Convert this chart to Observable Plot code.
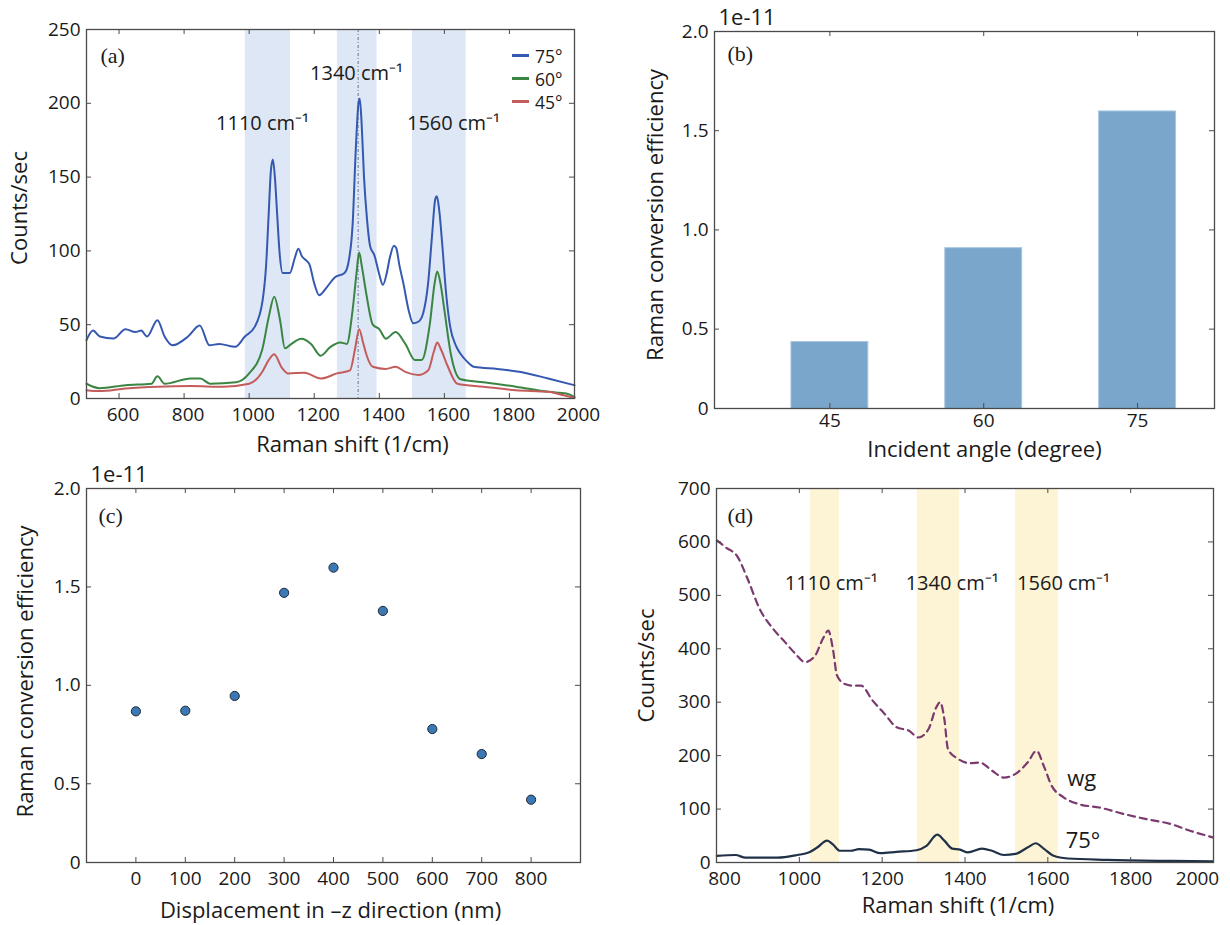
<!DOCTYPE html>
<html><head><meta charset="utf-8">
<script src="https://cdn.jsdelivr.net/npm/d3@7"></script>
<script src="https://cdn.jsdelivr.net/npm/@observablehq/plot@0.6"></script>
<style>
body{margin:0;background:#fff;}
#fig{position:relative;width:1230px;height:925px;font-family:"Open Sans",sans-serif;overflow:hidden;}
.panel{position:absolute;}
.legend{position:absolute;left:512px;top:44px;font:17.5px "Open Sans",sans-serif;color:#1a1a1a;}
.legend div{display:flex;align-items:center;height:23px;}
.legend .sw{display:inline-block;width:17px;height:3px;margin-right:6px;}
.legend .lt{display:inline-block;height:18px;line-height:18px;}
</style></head><body><div id="fig"></div>
<script>
// ---------- data ----------
// (a) spectra [Raman shift, counts/sec]
const spectrum75 = [[500,39.5],[520,46],[541,42],[583,40.6],[620,47],[650,45],[668,46],[686,42],[718,53],[740,42],[764,36],[812,42],[848,49.5],[878,36],[908,37],[957,35],[987,42],[1017,48.5],[1041,66],[1052,90],[1060,125],[1067,155],[1073,162],[1079,150],[1086,125],[1093,100],[1103,85],[1125,85],[1140,95],[1151,101.5],[1163,96],[1173,94],[1185,91],[1200,78],[1215,70],[1239,75.5],[1263,82],[1293,85],[1305,92],[1318,118],[1328,170],[1336,200],[1340,203],[1346,185],[1353,150],[1362,122],[1372,103],[1385,97],[1400,84],[1411,77],[1422,84],[1432,95],[1445,103.5],[1452,102],[1462,90],[1474,78],[1490,60],[1504,51],[1520,52],[1535,58],[1550,78],[1562,110],[1572,135],[1577,137],[1584,128],[1594,103],[1605,72],[1618,48.5],[1635,36],[1649,30.5],[1670,25],[1691,21.5],[1763,20],[1835,18],[1919,13.5],[2000,9]];
const spectrum60 = [[500,10],[540,7],[620,9],[700,10],[718,15],[740,10],[820,13.5],[850,13.5],[880,10],[960,11],[1000,17],[1040,33],[1060,55],[1077,69],[1095,53],[1110,34],[1130,37],[1160,40.5],[1190,37],[1220,29],[1250,35],[1280,38],[1300,37],[1318,60],[1330,85],[1338,99],[1346,90],[1360,71],[1380,50],[1400,47],[1420,40.5],[1450,45],[1480,37],[1510,26],[1530,26],[1555,50],[1570,78],[1578,86],[1588,78],[1600,60],[1620,30],[1650,13],[1720,11],[1820,8],[1920,4.5],[1975,3.4],[2000,1]];
const spectrum45 = [[500,5.6],[540,5],[620,6.8],[720,8],[820,8.4],[920,8],[1000,10],[1040,18],[1060,26],[1077,30],[1100,21],[1120,17],[1170,17.4],[1220,13.5],[1270,17],[1310,19],[1325,33],[1338,47],[1350,38],[1360,30],[1380,21.5],[1420,20],[1450,21.5],[1480,18],[1520,16],[1550,19],[1568,32],[1578,38],[1590,33],[1610,22],[1640,10],[1720,8],[1820,5.6],[1920,4.5],[1970,2],[2000,0.5]];
const bandsA = [[988,1127],[1271,1393],[1502,1667]];
const peakLineA = [1335];
const peakLabelsA = [{x:1041,y:186,t:"1110 cm\u207B\u00B9"},{x:1330,y:220,t:"1340 cm\u207B\u00B9"},{x:1628,y:186,t:"1560 cm\u207B\u00B9"}];
const legendA = [["75°","#3558b0"],["60°","#3a8542"],["45°","#c45c5c"]];

// (b) efficiency vs incident angle (x 1e-11)
const angles = ["45","60","75"];
const effByAngle = [0.435, 0.908, 1.597];

// (c) efficiency vs displacement (x 1e-11)
const displacement = [0,100,200,300,400,500,600,700,800];
const effByDisp = [0.868,0.871,0.946,1.470,1.598,1.378,0.778,0.651,0.419];

// (d) spectra
const wgSpectrum = [[801,603],[822,590],[851,572],[875,531],[904,475],[937,437],[966,412],[990,391],[1014,375],[1038,387],[1057,419],[1070,434],[1081,400],[1091,350],[1110,334],[1129,331],[1149,331],[1177,303],[1206,278],[1235,253],[1264,247],[1288,234],[1312,250],[1331,291],[1340,300],[1350,269],[1359,212],[1383,194],[1412,186],[1436,187],[1465,172],[1494,159],[1522,166],[1551,187],[1573,209],[1590,181],[1609,144],[1638,122],[1676,109],[1724,103],[1782,91],[1839,81],[1897,72],[1945,59],[1998,47]];
const spectrum75d = [[801,12.5],[846,14],[870,9],[947,9],[995,14],[1024,19],[1043,28],[1067,41],[1081,34],[1098,22],[1124,22],[1144,25],[1168,24],[1196,17.5],[1235,20],[1283,23],[1307,31],[1333,52],[1350,41],[1369,26],[1388,24],[1407,19],[1441,26],[1465,22],[1494,14],[1522,16],[1551,28],[1571,36],[1590,26],[1614,12.5],[1648,7.5],[1743,5],[1887,3],[1998,2]];
const bandsD = [[1027,1097],[1285,1387],[1522,1625]];
const peakLabelsD = [{x:1077,y:522,t:"1110 cm\u207B\u00B9"},{x:1369,y:522,t:"1340 cm\u207B\u00B9"},{x:1638,y:522,t:"1560 cm\u207B\u00B9"}];
const curveLabelsD = [{x:1647,y:157,t:"wg"},{x:1643,y:41,t:"75°"}];

// ---------- drawing ----------
const FRAME = "#4a4a4a";
const SERIF = "Liberation Serif, DejaVu Serif, serif";
const fig = document.getElementById("fig");

function ticksMarks(W, H, xTicks, yTicks) {
  return [
    Plot.ruleX(xTicks, {x: d => d, insetTop: H - 5, stroke: FRAME}),
    Plot.ruleX(xTicks, {x: d => d, insetBottom: H - 5, stroke: FRAME}),
    Plot.ruleY(yTicks, {y: d => d, insetRight: W - 5, stroke: FRAME}),
    Plot.ruleY(yTicks, {y: d => d, insetLeft: W - 5, stroke: FRAME}),
    Plot.frame({stroke: FRAME, strokeWidth: 1.3})
  ];
}
function xLabels(ticks, fmt, dx = 0, pad = 9) {
  return Plot.axisX(ticks, {tickSize: 0, tickPadding: pad, tickFormat: fmt, label: null, fill: "#1a1a1a", dx});
}
function yLabels(ticks, fmt) {
  return Plot.axisY(ticks, {tickSize: 0, tickPadding: 6, tickFormat: fmt, label: null, fill: "#1a1a1a"});
}
function titles(xt, xdx, xdy, yt, ydx, ydy) {
  return [
    Plot.text([xt], {frameAnchor: "bottom", dx: xdx, dy: xdy, fontSize: 22, textAnchor: "middle", lineAnchor: "middle", fill: "#1a1a1a"}),
    Plot.text([yt], {frameAnchor: "left", dx: ydx, dy: ydy, rotate: -90, fontSize: 22, textAnchor: "middle", lineAnchor: "middle", fill: "#1a1a1a"})
  ];
}
function panelLabel(t, dx, dy) {
  return Plot.text([t], {frameAnchor: "top-left", dx, dy, fontFamily: SERIF, fontSize: 22, textAnchor: "start", lineAnchor: "middle", fill: "#1a1a1a"});
}
function expLabel() {
  return Plot.text(["1e-11"], {frameAnchor: "top-left", dx: 4, dy: -14, fontSize: 22, textAnchor: "start", lineAnchor: "middle", fill: "#1a1a1a"});
}
function place(svg, left, top) {
  svg.classList.add("panel");
  svg.style.left = left + "px";
  svg.style.top = top + "px";
  fig.appendChild(svg);
}
const style = {fontFamily: "Open Sans, sans-serif", fontSize: "19px", background: "transparent", overflow: "visible"};
const num = d => String(d);
const eff = d => d < 0.2 ? "0" : d.toFixed(1);

// (a)
{
  const W = 615 - 86 - 41, H = 462 - 29 - 64;
  const xT = [600,800,1000,1200,1400,1600,1800,2000], yT = [0,50,100,150,200,250];
  const svg = Plot.plot({
    width: 615, height: 462, marginLeft: 86, marginRight: 41, marginTop: 29, marginBottom: 64,
    style,
    x: {domain: [500, 2000]}, y: {domain: [0, 250]},
    marks: [
      Plot.rect(bandsA, {x1: d => d[0], x2: d => d[1], fill: "#dde7f5"}),
      Plot.ruleX(peakLineA, {x: d => d, stroke: "#4c5b80", strokeWidth: 0.8, strokeDasharray: "3,2,1,2"}),
      Plot.line(spectrum75, {x: d => d[0], y: d => d[1], stroke: legendA[0][1], strokeWidth: 2, curve: "monotone-x"}),
      Plot.line(spectrum60, {x: d => d[0], y: d => d[1], stroke: legendA[1][1], strokeWidth: 2, curve: "monotone-x"}),
      Plot.line(spectrum45, {x: d => d[0], y: d => d[1], stroke: legendA[2][1], strokeWidth: 2, curve: "monotone-x"}),
      Plot.text(peakLabelsA, {x: "x", y: "y", text: "t", fontSize: 20, fill: "#1a1a1a"}),
      panelLabel("(a)", 14, 26),
      ...ticksMarks(W, H, xT, yT),
      xLabels(xT, num, 4),
      yLabels(yT, num),
      ...titles("Raman shift (1/cm)", 22, 46, "Counts/sec", -67, -6)
    ]
  });
  place(svg, 0, 0);
  const lg = document.createElement("div");
  lg.className = "legend";
  legendA.forEach(([t, c]) => {
    const row = document.createElement("div");
    row.innerHTML = `<span class="sw" style="background:${c}"></span><span class="lt">${t}</span>`;
    lg.appendChild(row);
  });
  fig.appendChild(lg);
}

// (b)
{
  const W = 615 - 99 - 16, H = 462 - 31 - 54;
  const bars = angles.map((a, i) => ({i, a, v: effByAngle[i]}));
  const xT = [0,1,2], yT = [0.1,0.5,1.0,1.5,2.0];
  const svg = Plot.plot({
    width: 615, height: 462, marginLeft: 99, marginRight: 16, marginTop: 31, marginBottom: 54,
    style,
    x: {domain: [-0.75, 2.5]}, y: {domain: [0.1, 2.0]},
    marks: [
      Plot.rectY(bars, {x1: d => d.i - 0.25, x2: d => d.i + 0.25, y: "v", fill: "#7aa6cc", stroke: "#a8c6e0", strokeWidth: 1, clip: true}),
      panelLabel("(b)", 13, 22),
      expLabel(),
      ...ticksMarks(W, H, xT, yT),
      xLabels(xT, i => angles[i], 0, 5),
      yLabels(yT, eff),
      ...titles("Incident angle (degree)", 20, 41, "Raman conversion efficiency", -59, -5)
    ]
  });
  place(svg, 615, 0);
}

// (c)
{
  const W = 615 - 86 - 35, H = 463 - 26 - 63;
  const pts = displacement.map((d, i) => ({d, v: effByDisp[i]}));
  const yT = [0.1,0.5,1.0,1.5,2.0];
  const svg = Plot.plot({
    width: 615, height: 463, marginLeft: 86, marginRight: 35, marginTop: 26, marginBottom: 63,
    style,
    x: {domain: [-100, 900]}, y: {domain: [0.1, 2.0]},
    marks: [
      Plot.dot(pts, {x: "d", y: "v", r: 4.6, fill: "#3c78b4", stroke: "#1c2a3a", strokeWidth: 1}),
      panelLabel("(c)", 12, 27),
      expLabel(),
      ...ticksMarks(W, H, displacement, yT),
      xLabels(displacement, num),
      yLabels(yT, eff),
      ...titles("Displacement in \u2013z direction (nm)", -3, 48, "Raman conversion efficiency", -61, -4)
    ]
  });
  place(svg, 0, 462);
}

// (d)
{
  const W = 615 - 101 - 17, H = 463 - 26 - 63;
  const xT = [800,1000,1200,1400,1600,1800,2000], yT = [0,100,200,300,400,500,600,700];
  const svg = Plot.plot({
    width: 615, height: 463, marginLeft: 101, marginRight: 17, marginTop: 26, marginBottom: 63,
    style,
    x: {domain: [800, 2000]}, y: {domain: [0, 700]},
    marks: [
      Plot.rect(bandsD, {x1: d => d[0], x2: d => d[1], fill: "#fdf3d5"}),
      Plot.line(wgSpectrum, {x: d => d[0], y: d => d[1], stroke: "#7a3a6e", strokeWidth: 2.2, strokeDasharray: "7,5", curve: "monotone-x"}),
      Plot.line(spectrum75d, {x: d => d[0], y: d => d[1], stroke: "#1f3047", strokeWidth: 2.2, curve: "monotone-x"}),
      Plot.text(peakLabelsD, {x: "x", y: "y", text: "t", fontSize: 20, fill: "#1a1a1a"}),
      Plot.text(curveLabelsD, {x: "x", y: "y", text: "t", fontSize: 22, textAnchor: "start", fill: "#1a1a1a"}),
      panelLabel("(d)", 11, 27),
      ...ticksMarks(W, H, xT, yT),
      xLabels(xT.slice(0, 1), num, 8),
      xLabels(xT.slice(1, -1), num),
      xLabels(xT.slice(-1), num, -16),
      yLabels(yT, num),
      ...titles("Raman shift (1/cm)", -7, 43, "Counts/sec", -70, -10)
    ]
  });
  place(svg, 615, 462);
}
</script></body></html>
